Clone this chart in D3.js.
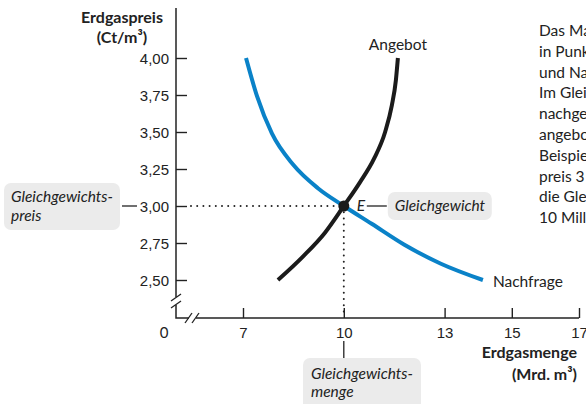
<!DOCTYPE html>
<html>
<head>
<meta charset="utf-8">
<script src="https://cdn.jsdelivr.net/npm/d3@7"></script>
<style>
  body { margin: 0; background: #fff; }
  svg { display: block; font-family: Lato, "Noto Sans", sans-serif; }
  .tick text { font-size: 15px; fill: #222; }
  .tick line { stroke: #222; stroke-width: 1.4; }
</style>
</head>
<body>
<div id="chart"></div>
<script>
// price axis (Ct/m3) and quantity axis (Mrd. m3)
const priceTicks = [2.5, 2.75, 3.0, 3.25, 3.5, 3.75, 4.0];
const qtyTicks = [7, 10, 13, 15, 17];

// demand curve: [quantity, price]
const demand = [
  [7.09, 4.00], [7.42, 3.74], [7.86, 3.49], [8.49, 3.28], [9.23, 3.12],
  [10.0, 3.00], [10.83, 2.88], [11.79, 2.74], [12.89, 2.61], [14.14, 2.50]
];
// supply curve
const supply = [
  [8.04, 2.50], [8.79, 2.66], [9.44, 2.82], [10.0, 3.00], [10.48, 3.16],
  [10.90, 3.32], [11.23, 3.50], [11.43, 3.68], [11.55, 3.85], [11.61, 4.00]
];
const equilibrium = { q: 10, p: 3.0 };

const paragraph = [
  "Das Marktgleichgewicht liegt",
  "in Punkt E, wo sich Angebot",
  "und Nachfrage schneiden.",
  "Im Gleichgewicht ist die",
  "nachgefragte Menge gleich der",
  "angebotenen Menge. In diesem",
  "Beispiel beträgt der Gleichgewichts-",
  "preis 3 Cent pro m³ und",
  "die Gleichgewichtsmenge",
  "10 Milliarden m³."
];

const W = 586, H = 404;
const ink = "#222";
const blue = "#0a82c8";
const boxFill = "#ebebeb";
const labelSize = 15.5;

const svg = d3.select("#chart").append("svg")
  .attr("width", W).attr("height", H);

// quantity axis has a break between 0 and 7
const x = d3.scaleLinear().domain([0, 7, 17]).range([176, 243, 579]);
const y = d3.scaleLinear().domain([2.5, 4.0]).range([280, 58]);
const axisY = 318;

// y axis
const yAxis = svg.append("g")
  .attr("transform", `translate(${x(0)},0)`)
  .call(d3.axisLeft(y).tickValues(priceTicks)
    .tickSizeInner(-11).tickSizeOuter(0).tickPadding(7)
    .tickFormat(d => d3.format(".2f")(d).replace(".", ",")));
yAxis.select(".domain").remove();
yAxis.selectAll(".tick text").attr("dy", "0.34em");

// x axis
const xAxis = svg.append("g")
  .attr("transform", `translate(0,${axisY})`)
  .call(d3.axisBottom(x).tickValues(qtyTicks)
    .tickSizeInner(-10).tickSizeOuter(0).tickPadding(9));
xAxis.select(".domain").remove();

svg.append("text")
  .attr("x", x(0) - 12).attr("y", axisY + 9).attr("dy", "0.71em")
  .attr("text-anchor", "middle").attr("font-size", 15).attr("fill", ink)
  .text("0");

// axis lines with break marks
const axisLines = [
  [[x(0), 8], [x(0), 297]],
  [[x(0), 305], [x(0), axisY], [189, axisY]],
  [[196, axisY], [579, axisY]]
];
const breaks = [
  [[171, 301], [181, 294]], [[171, 308], [181, 301]],
  [[185, 323], [192, 313]], [[192, 323], [199, 313]]
];
const lineGen = d3.line();
svg.selectAll("path.axisline").data(axisLines).join("path")
  .attr("class", "axisline")
  .attr("d", lineGen).attr("fill", "none")
  .attr("stroke", ink).attr("stroke-width", 1.5);
svg.selectAll("path.brk").data(breaks).join("path")
  .attr("class", "brk")
  .attr("d", lineGen).attr("fill", "none")
  .attr("stroke", ink).attr("stroke-width", 1.3);

// axis titles
const yTitle = svg.append("text").attr("text-anchor", "middle")
  .attr("font-size", 16).attr("font-weight", "bold").attr("fill", ink);
yTitle.append("tspan").attr("x", 122).attr("y", 23).text("Erdgaspreis");
yTitle.append("tspan").attr("x", 122).attr("y", 43).text("(Ct/m³)");

const xTitle = svg.append("text").attr("text-anchor", "end")
  .attr("font-size", 16).attr("font-weight", "bold").attr("fill", ink);
xTitle.append("tspan").attr("x", 577).attr("y", 358).text("Erdgasmenge");
xTitle.append("tspan").attr("x", 577).attr("y", 380).text("(Mrd. m³)");

// dotted guides to equilibrium
const ex = x(equilibrium.q), ey = y(equilibrium.p);
svg.append("line")
  .attr("x1", 191).attr("x2", ex).attr("y1", ey).attr("y2", ey)
  .attr("stroke", ink).attr("stroke-width", 2)
  .attr("stroke-linecap", "round").attr("stroke-dasharray", "0,6.2");
svg.append("line")
  .attr("x1", ex).attr("x2", ex).attr("y1", ey).attr("y2", axisY - 2)
  .attr("stroke", ink).attr("stroke-width", 2)
  .attr("stroke-linecap", "round").attr("stroke-dasharray", "0,6.2");

// curves
const curve = d3.line()
  .x(d => x(d[0])).y(d => y(d[1]))
  .curve(d3.curveMonotoneX);
svg.append("path").attr("d", curve(demand))
  .attr("fill", "none").attr("stroke", blue).attr("stroke-width", 4);
svg.append("path").attr("d", curve(supply))
  .attr("fill", "none").attr("stroke", "#1b1b1b").attr("stroke-width", 4);

svg.append("circle").attr("cx", ex).attr("cy", ey).attr("r", 5.5)
  .attr("fill", "#1b1b1b");

// curve labels
svg.append("text").attr("x", x(supply[supply.length - 1][0])).attr("y", 50)
  .attr("text-anchor", "middle").attr("font-size", labelSize).attr("fill", ink)
  .text("Angebot");
svg.append("text").attr("x", x(demand[demand.length - 1][0]) + 10).attr("y", 287)
  .attr("font-size", labelSize).attr("fill", ink)
  .text("Nachfrage");

// equilibrium callouts
svg.append("text").attr("x", ex + 13).attr("y", ey + 5)
  .attr("font-size", labelSize).attr("font-style", "italic").attr("fill", ink).text("E");
svg.append("line").attr("x1", ex + 23).attr("x2", ex + 43)
  .attr("y1", ey).attr("y2", ey).attr("stroke", ink).attr("stroke-width", 1.3);
svg.append("rect").attr("x", ex + 44).attr("y", ey - 14)
  .attr("width", 104).attr("height", 28).attr("rx", 7).attr("fill", boxFill);
svg.append("text").attr("x", ex + 51).attr("y", ey + 5)
  .attr("font-size", labelSize).attr("font-style", "italic").attr("fill", ink)
  .text("Gleichgewicht");

// price callout (left)
svg.append("rect").attr("x", 4).attr("y", 183)
  .attr("width", 116).attr("height", 47).attr("rx", 7).attr("fill", boxFill);
svg.append("line").attr("x1", 122).attr("x2", 137)
  .attr("y1", ey).attr("y2", ey).attr("stroke", ink).attr("stroke-width", 1.3);
const pl = svg.append("text").attr("font-size", labelSize).attr("font-style", "italic").attr("fill", ink);
pl.append("tspan").attr("x", 11).attr("y", 202).text("Gleichgewichts-");
pl.append("tspan").attr("x", 11).attr("y", 221).text("preis");

// quantity callout (bottom)
svg.append("line").attr("x1", ex).attr("x2", ex)
  .attr("y1", 341).attr("y2", 358).attr("stroke", ink).attr("stroke-width", 1.3);
svg.append("rect").attr("x", 303).attr("y", 358)
  .attr("width", 118).attr("height", 60).attr("rx", 7).attr("fill", boxFill);
const ql = svg.append("text").attr("font-size", labelSize).attr("font-style", "italic").attr("fill", ink);
ql.append("tspan").attr("x", 311).attr("y", 379).text("Gleichgewichts-");
ql.append("tspan").attr("x", 311).attr("y", 397).text("menge");

// side paragraph (runs past the right edge)
svg.append("g").selectAll("text").data(paragraph).join("text")
  .attr("x", 539).attr("y", (d, i) => 36 + i * 20.8)
  .attr("font-size", labelSize).attr("fill", ink)
  .text(d => d);
</script>
</body>
</html>
